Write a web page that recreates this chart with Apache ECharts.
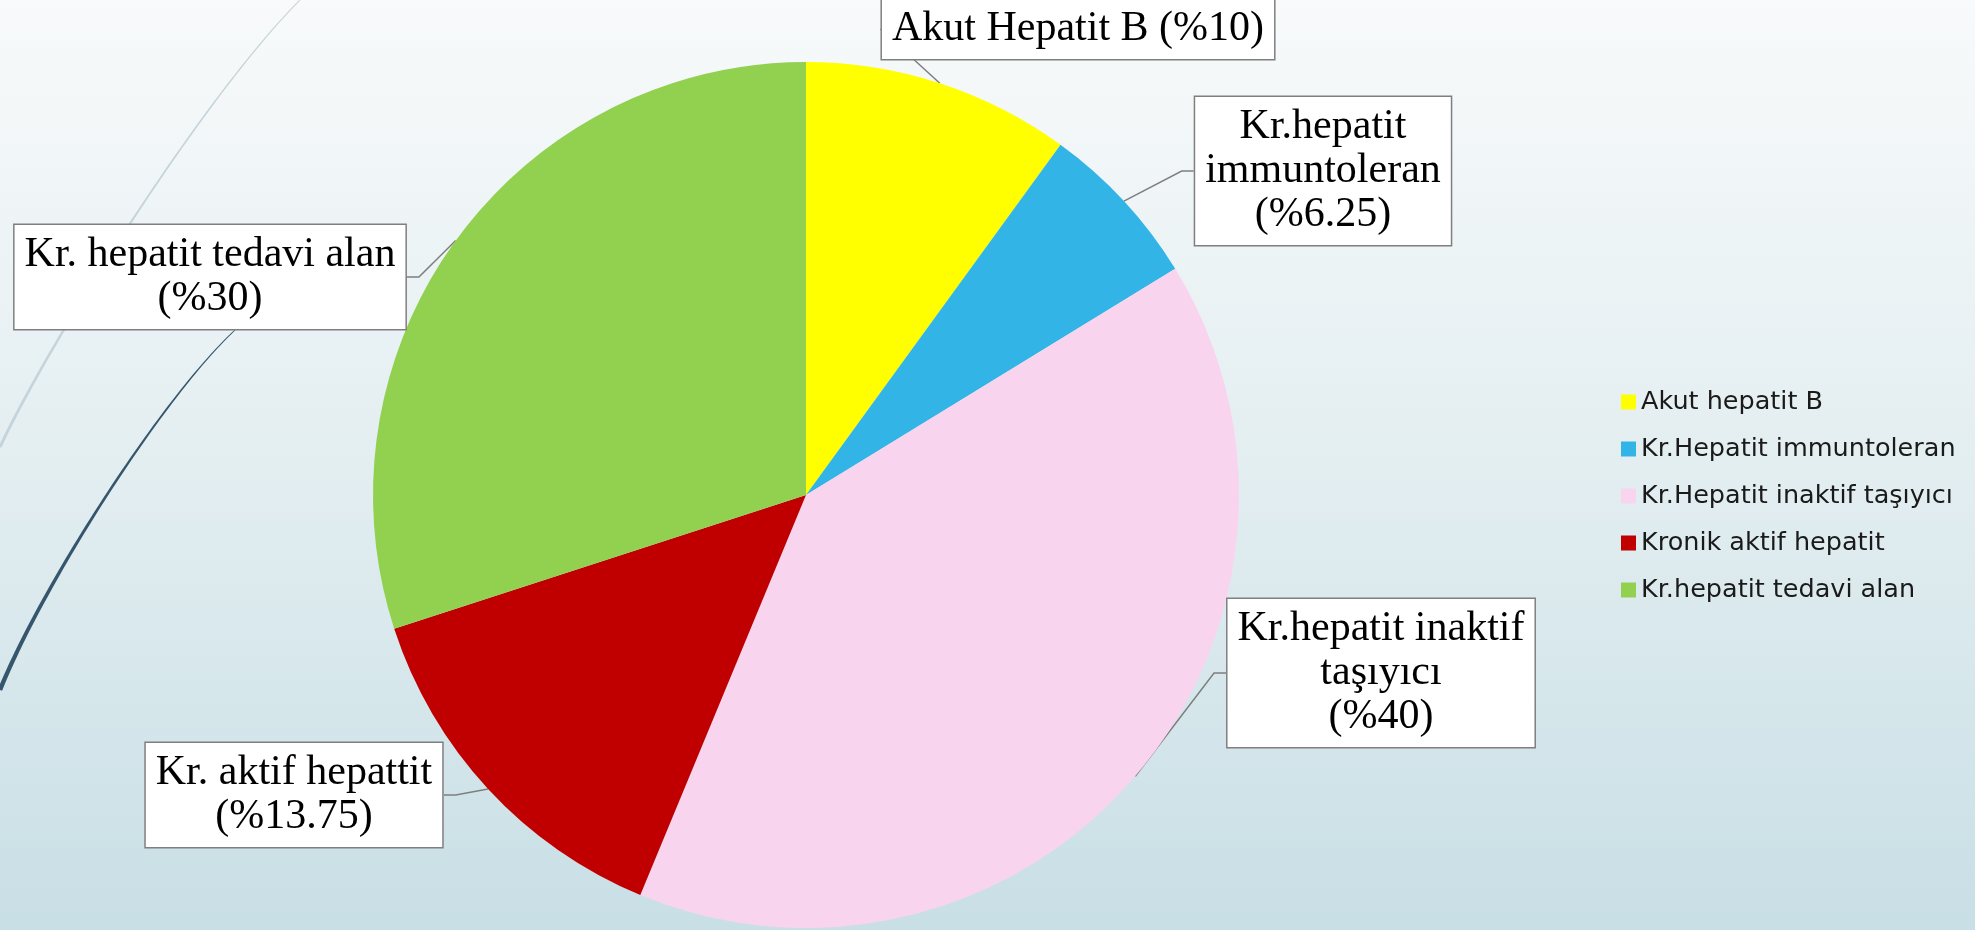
<!DOCTYPE html>
<html>
<head>
<meta charset="utf-8">
<script src="https://cdn.jsdelivr.net/npm/echarts@6/dist/echarts.min.js"></script>
<style>
html,body{margin:0;padding:0;width:1975px;height:930px;overflow:hidden;}
#main{width:1975px;height:930px;}
</style>
</head>
<body>
<div id="main"></div>
<script>
// ---- data ----
var categories = ['Akut hepatit B', 'Kr.Hepatit immuntoleran', 'Kr.Hepatit inaktif taşıyıcı', 'Kronik aktif hepatit', 'Kr.hepatit tedavi alan'];
var labelNames = ['Akut Hepatit B', 'Kr.hepatit\nimmuntoleran', 'Kr.hepatit inaktif\ntaşıyıcı', 'Kr. aktif hepattit', 'Kr. hepatit tedavi alan'];
var values = [10, 6.25, 40, 13.75, 30];
var colors = ['#ffff00', '#32b4e6', '#f9d4ef', '#c00000', '#92d050'];

// ---- label box centres (layout, not data) ----
var labelPos = [[1078, 29], [1323, 171], [1381, 673], [294, 795], [210, 277]];
var singleLine = [true, false, false, false, false];

// decorative tapered swoosh (background ornament)
function taperedCurve(p0, p1, p2, p3, w0, w1) {
  var n = 60, left = [], right = [];
  for (var k = 0; k <= n; k++) {
    var t = k / n, u = 1 - t;
    var x = u*u*u*p0[0] + 3*u*u*t*p1[0] + 3*u*t*t*p2[0] + t*t*t*p3[0];
    var y = u*u*u*p0[1] + 3*u*u*t*p1[1] + 3*u*t*t*p2[1] + t*t*t*p3[1];
    var dx = 3*u*u*(p1[0]-p0[0]) + 6*u*t*(p2[0]-p1[0]) + 3*t*t*(p3[0]-p2[0]);
    var dy = 3*u*u*(p1[1]-p0[1]) + 6*u*t*(p2[1]-p1[1]) + 3*t*t*(p3[1]-p2[1]);
    var len = Math.sqrt(dx*dx + dy*dy) || 1;
    var hw = (w0 + (w1 - w0) * t) / 2;
    var nx = -dy / len * hw, ny = dx / len * hw;
    left.push([x + nx, y + ny]);
    right.unshift([x - nx, y - ny]);
  }
  return left.concat(right);
}

var chart = echarts.init(document.getElementById('main'), null, {renderer: 'canvas'});

var seriesData = categories.map(function (c, i) {
  return {name: c, value: values[i], itemStyle: {color: colors[i]}};
});

var option = {
  backgroundColor: new echarts.graphic.LinearGradient(0, 0, 0, 1, [
    {offset: 0, color: '#f8fafb'},
    {offset: 0.5, color: '#e3eef1'},
    {offset: 1, color: '#c8dfe5'}
  ]),
  graphic: [
    {type: 'polygon', z: 0, silent: true,
     shape: {points: taperedCurve([300, 0], [200, 100], [45, 350], [0, 447], 1, 3)},
     style: {fill: '#c5d4da'}},
    {type: 'polygon', z: 0, silent: true,
     shape: {points: taperedCurve([235, 330], [160, 400], [40, 590], [0, 690], 0.8, 4.5)},
     style: {fill: '#35566c'}}
  ],
  legend: {
    orient: 'vertical',
    left: 1616,
    top: 384,
    itemWidth: 15,
    itemHeight: 15,
    itemGap: 21,
    icon: 'rect',
    data: categories,
    textStyle: {fontFamily: 'DejaVu Sans', fontSize: 25.5, color: '#1a1a1a', lineHeight: 26}
  },
  series: [{
    type: 'pie',
    center: [806, 495],
    radius: 433,
    startAngle: 90,
    clockwise: true,
    avoidLabelOverlap: false,
    itemStyle: {borderWidth: 0},
    emphasis: {disabled: true},
    data: seriesData,
    label: {
      show: true,
      formatter: function (p) {
        var i = p.dataIndex;
        return labelNames[i] + (singleLine[i] ? ' ' : '\n') + '(%' + values[i] + ')';
      },
      fontFamily: 'Liberation Serif',
      fontSize: 42,
      lineHeight: 44,
      color: '#000',
      align: 'center',
      backgroundColor: '#ffffff',
      borderColor: '#7f7f7f',
      borderWidth: 1.5,
      padding: [9, 10, 7, 10]
    },
    labelLine: {
      show: true,
      length: 10,
      length2: 12,
      lineStyle: {color: '#7f7f7f', width: 1.5}
    },
    labelLayout: function (params) {
      var p = labelPos[params.dataIndex];
      return {x: p[0], y: p[1], align: 'center', verticalAlign: 'middle'};
    }
  }]
};
chart.setOption(option);
</script>
</body>
</html>
